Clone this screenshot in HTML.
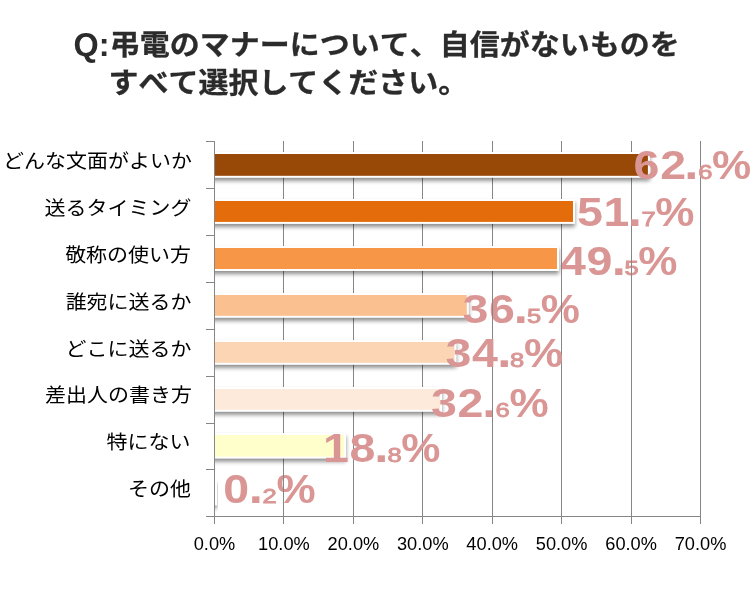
<!DOCTYPE html>
<html lang="ja">
<head>
<meta charset="utf-8">
<title>弔電のマナーについて、自信がないもの</title>
<style>
html,body{margin:0;padding:0;background:#fff;}
body{width:750px;height:600px;overflow:hidden;position:relative;font-family:"Liberation Sans", "Noto Sans CJK JP", sans-serif;}
svg{position:absolute;left:0;top:0;display:block;}
text{font-family:"Liberation Sans", "Noto Sans CJK JP", sans-serif;font-kerning:none;font-feature-settings:"kern" 0,"palt" 0;}
.ttl text{font-weight:700;font-size:30px;fill:#2b2b2b;stroke:#2b2b2b;stroke-width:0.3px;stroke-linejoin:round;}
.ttl text.q{font-size:32.4px;stroke-width:0;}
.cat text{font-weight:400;font-size:21px;fill:#000;text-anchor:end;}
.ax text{font-weight:400;font-size:19.2px;fill:#000;text-anchor:middle;}
.dl text{font-weight:700;font-size:41.2px;fill:#D99694;letter-spacing:0.61px;}
.dl text.s,.dl text.p{letter-spacing:0;}
.dl tspan.d{font-size:45px;}
.dl text.s{font-size:20.6px;font-weight:400;stroke:#D99694;stroke-width:0.9px;}
.grid line,.axis line{stroke:#868686;stroke-width:1;}
.bars rect.o{fill:#ffffff;}
</style>
</head>
<body>
<svg width="750" height="600" viewBox="0 0 750 600">
<defs>
<filter id="sh" x="-5%" y="-50%" width="115%" height="250%" color-interpolation-filters="sRGB">
<feGaussianBlur in="SourceAlpha" stdDeviation="2.0"/>
<feOffset dx="0.0" dy="3.0"/>
<feComponentTransfer><feFuncA type="linear" slope="0.45"/></feComponentTransfer>
<feMerge><feMergeNode/><feMergeNode in="SourceGraphic"/></feMerge>
</filter>
</defs>
<rect width="750" height="600" fill="#ffffff"/>

<g class="grid">
<line x1="283.5" y1="141" x2="283.5" y2="524"/>
<line x1="353.5" y1="141" x2="353.5" y2="524"/>
<line x1="422.5" y1="141" x2="422.5" y2="524"/>
<line x1="492.5" y1="141" x2="492.5" y2="524"/>
<line x1="561.5" y1="141" x2="561.5" y2="524"/>
<line x1="631.5" y1="141" x2="631.5" y2="524"/>
<line x1="700.5" y1="141" x2="700.5" y2="524"/>
</g>
<clipPath id="plot"><rect x="215.0" y="120" width="560" height="420"/></clipPath>
<g class="bars" clip-path="url(#plot)">
<rect class="o" x="210.50" y="152.00" width="439.40" height="25.80" filter="url(#sh)"/>
<rect x="214.50" y="154.00" width="433.40" height="21.80" fill="#984807"/>
<rect class="o" x="210.50" y="199.00" width="364.50" height="24.90" filter="url(#sh)"/>
<rect x="214.50" y="201.00" width="358.50" height="20.90" fill="#E46C0A"/>
<rect class="o" x="210.50" y="246.00" width="348.50" height="25.00" filter="url(#sh)"/>
<rect x="214.50" y="248.00" width="342.50" height="21.00" fill="#F79646"/>
<rect class="o" x="210.50" y="293.00" width="258.30" height="24.80" filter="url(#sh)"/>
<rect x="214.50" y="295.00" width="252.30" height="20.80" fill="#FAC090"/>
<rect class="o" x="210.50" y="340.00" width="245.90" height="24.80" filter="url(#sh)"/>
<rect x="214.50" y="342.00" width="239.90" height="20.80" fill="#FCD5B5"/>
<rect class="o" x="210.50" y="387.00" width="231.50" height="24.80" filter="url(#sh)"/>
<rect x="214.50" y="389.00" width="225.50" height="20.80" fill="#FDEADA"/>
<rect class="o" x="210.50" y="433.00" width="135.50" height="25.60" filter="url(#sh)"/>
<rect x="214.50" y="435.00" width="129.50" height="21.60" fill="#FFFFCC"/>
<rect class="o" x="210.50" y="480.00" width="6.70" height="25.40" filter="url(#sh)"/>
<rect x="214.50" y="482.00" width="0.70" height="21.40" fill="#FFFFFF"/>
</g>
<g class="axis">
<line x1="214.5" y1="141" x2="214.5" y2="524"/>
<line x1="206" y1="516.5" x2="701" y2="516.5"/>
<line x1="206" y1="141.5" x2="214" y2="141.5"/>
<line x1="206" y1="188.5" x2="214" y2="188.5"/>
<line x1="206" y1="235.5" x2="214" y2="235.5"/>
<line x1="206" y1="282.5" x2="214" y2="282.5"/>
<line x1="206" y1="329.5" x2="214" y2="329.5"/>
<line x1="206" y1="376.5" x2="214" y2="376.5"/>
<line x1="206" y1="423.5" x2="214" y2="423.5"/>
<line x1="206" y1="469.5" x2="214" y2="469.5"/>
</g>
<g class="ttl">
<text class="q" x="73.5" y="55.8">Q:</text>
<text transform="translate(109.8,55) scale(1,0.94)">弔電のマナーについて、自信がないものを</text>
<text transform="translate(108.4,93) scale(1,0.94)">すべて選択してください。</text>
</g>
<g class="cat">
<text transform="translate(191.9,168) scale(1,0.94)">どんな文面がよいか</text>
<text transform="translate(191.4,215) scale(1,0.94)">送るタイミング</text>
<text transform="translate(191.0,262) scale(1,0.94)">敬称の使い方</text>
<text transform="translate(191.5,309) scale(1,0.94)">誰宛に送るか</text>
<text transform="translate(191.4,356) scale(1,0.94)">どこに送るか</text>
<text transform="translate(191.9,402) scale(1,0.94)">差出人の書き方</text>
<text transform="translate(190.4,449) scale(1,0.94)">特にない</text>
<text transform="translate(190.9,496) scale(1,0.94)">その他</text>
</g>
<g class="ax">
<text transform="translate(214.5,550.0) scale(0.95,1)">0.0%</text>
<text transform="translate(283.9,550.0) scale(0.95,1)">10.0%</text>
<text transform="translate(353.4,550.0) scale(0.95,1)">20.0%</text>
<text transform="translate(422.8,550.0) scale(0.95,1)">30.0%</text>
<text transform="translate(492.2,550.0) scale(0.95,1)">40.0%</text>
<text transform="translate(561.6,550.0) scale(0.95,1)">50.0%</text>
<text transform="translate(631.1,550.0) scale(0.95,1)">60.0%</text>
<text transform="translate(700.5,550.0) scale(0.95,1)">70.0%</text>
</g>
<g class="dl" transform="translate(559.5,275)"><text transform="translate(0.4,0) scale(1.13,1)">49<tspan class="d" dx="-1.24">.</tspan></text><text class="s" transform="translate(65.0,0) scale(1.24,1)">5</text><text class="p" transform="translate(78.8,0) scale(1.07,1)">%</text></g>
<g class="dl" transform="translate(462.0,323)"><text transform="translate(0.4,0) scale(1.13,1)">36<tspan class="d" dx="-1.68">.</tspan></text><text class="s" transform="translate(65.0,0) scale(1.24,1)">5</text><text class="p" transform="translate(78.8,0) scale(1.07,1)">%</text></g>
<g class="dl" transform="translate(430.6,417)"><text transform="translate(0.4,0) scale(1.13,1)">32<tspan class="d" dx="-1.68">.</tspan></text><text class="s" transform="translate(65.0,0) scale(1.24,1)">6</text><text class="p" transform="translate(78.8,0) scale(1.07,1)">%</text></g>
<g class="dl" transform="translate(222.8,503)"><text transform="translate(0.4,0) scale(1.13,1)">0<tspan class="d" dx="-0.97">.</tspan></text><text class="s" transform="translate(39.8,0) scale(1.24,1)">2</text><text class="p" transform="translate(53.6,0) scale(1.07,1)">%</text></g>
<g class="grid">
<line x1="561.5" y1="245" x2="561.5" y2="277"/>
<line x1="631.5" y1="245" x2="631.5" y2="277"/>
<line x1="492.5" y1="293" x2="492.5" y2="325"/>
<line x1="561.5" y1="293" x2="561.5" y2="325"/>
<line x1="492.5" y1="387" x2="492.5" y2="419"/>
<line x1="283.5" y1="473" x2="283.5" y2="505"/>
</g>
<g class="dl" transform="translate(633.2,179)"><text transform="translate(0.4,0) scale(1.13,1)">62<tspan class="d" dx="-2.12">.</tspan></text><text class="s" transform="translate(65.0,0) scale(1.24,1)">6</text><text class="p" transform="translate(78.8,0) scale(1.07,1)">%</text></g>
<g class="dl" transform="translate(576.5,226)"><text transform="translate(0.4,0) scale(1.13,1)">51<tspan class="d" dx="-2.12">.</tspan></text><text class="s" transform="translate(65.0,0) scale(1.24,1)">7</text><text class="p" transform="translate(78.8,0) scale(1.07,1)">%</text></g>
<g class="dl" transform="translate(445.1,367)"><text transform="translate(0.4,0) scale(1.13,1)">34<tspan class="d" dx="-1.24">.</tspan></text><text class="s" transform="translate(65.0,0) scale(1.24,1)">8</text><text class="p" transform="translate(78.8,0) scale(1.07,1)">%</text></g>
<g class="dl" transform="translate(322.5,462)"><text transform="translate(0.4,0) scale(1.13,1)">18<tspan class="d" dx="-1.68">.</tspan></text><text class="s" transform="translate(65.0,0) scale(1.24,1)">8</text><text class="p" transform="translate(78.8,0) scale(1.07,1)">%</text></g>
</svg>
</body>
</html>
